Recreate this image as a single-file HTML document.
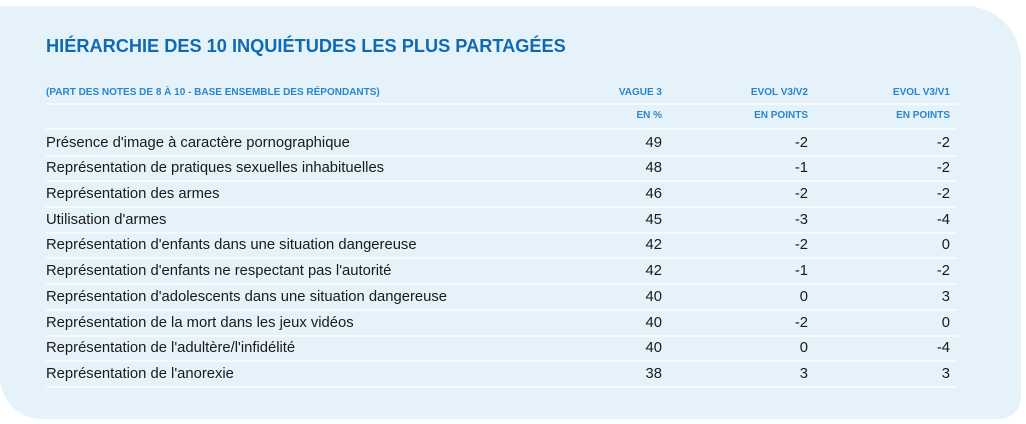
<!DOCTYPE html>
<html><head><meta charset="utf-8"><style>
body{margin:0;width:1026px;height:424px;background:#fff;font-family:"Liberation Sans",sans-serif;position:relative;overflow:hidden}
.panel{position:absolute;left:0;top:6px;width:1021px;height:413px;background:#e5f2f9;border-radius:0 56px 22px 42px}
h1{position:absolute;left:46px;top:36px;margin:0;font-size:18.2px;font-weight:bold;color:#0f6ab4;letter-spacing:0px}
.t{position:absolute;left:46px;width:911px}
.r{position:absolute;left:0;width:911px;border-bottom:2px solid #f4fafd}
.r span{position:absolute;top:0}
.h{font-size:10px;font-weight:bold;color:#2a86cc}
.d{font-size:14.8px;color:#1a1a1a}
.c1{right:295px}.c2{right:149px}.c3{right:7px}
</style></head><body>
<div class="panel"></div>
<h1>HIÉRARCHIE DES 10 INQUIÉTUDES LES PLUS PARTAGÉES</h1>
<div class="t">
<div class="r h" style="top:87px;height:16px"><span style="left:0">(PART DES NOTES DE 8 À 10 - BASE ENSEMBLE DES RÉPONDANTS)</span><span class="c1">VAGUE 3</span><span class="c2">EVOL V3/V2</span><span class="c3">EVOL V3/V1</span></div>
<div class="r h" style="top:110px;height:18px"><span class="c1">EN %</span><span class="c2">EN POINTS</span><span class="c3">EN POINTS</span></div>
<div class="r d" style="top:135px;height:20px"><span style="left:0">Présence d'image à caractère pornographique</span><span class="c1">49</span><span class="c2">-2</span><span class="c3">-2</span></div>
<div class="r d" style="top:160px;height:20px"><span style="left:0">Représentation de pratiques sexuelles inhabituelles</span><span class="c1">48</span><span class="c2">-1</span><span class="c3">-2</span></div>
<div class="r d" style="top:186px;height:20px"><span style="left:0">Représentation des armes</span><span class="c1">46</span><span class="c2">-2</span><span class="c3">-2</span></div>
<div class="r d" style="top:212px;height:20px"><span style="left:0">Utilisation d'armes</span><span class="c1">45</span><span class="c2">-3</span><span class="c3">-4</span></div>
<div class="r d" style="top:237px;height:20px"><span style="left:0">Représentation d'enfants dans une situation dangereuse</span><span class="c1">42</span><span class="c2">-2</span><span class="c3">0</span></div>
<div class="r d" style="top:263px;height:20px"><span style="left:0">Représentation d'enfants ne respectant pas l'autorité</span><span class="c1">42</span><span class="c2">-1</span><span class="c3">-2</span></div>
<div class="r d" style="top:289px;height:20px"><span style="left:0">Représentation d'adolescents dans une situation dangereuse</span><span class="c1">40</span><span class="c2">0</span><span class="c3">3</span></div>
<div class="r d" style="top:315px;height:20px"><span style="left:0">Représentation de la mort dans les jeux vidéos</span><span class="c1">40</span><span class="c2">-2</span><span class="c3">0</span></div>
<div class="r d" style="top:340px;height:20px"><span style="left:0">Représentation de l'adultère/l'infidélité</span><span class="c1">40</span><span class="c2">0</span><span class="c3">-4</span></div>
<div class="r d" style="top:366px;height:20px"><span style="left:0">Représentation de l'anorexie</span><span class="c1">38</span><span class="c2">3</span><span class="c3">3</span></div>
</div>
</body></html>
